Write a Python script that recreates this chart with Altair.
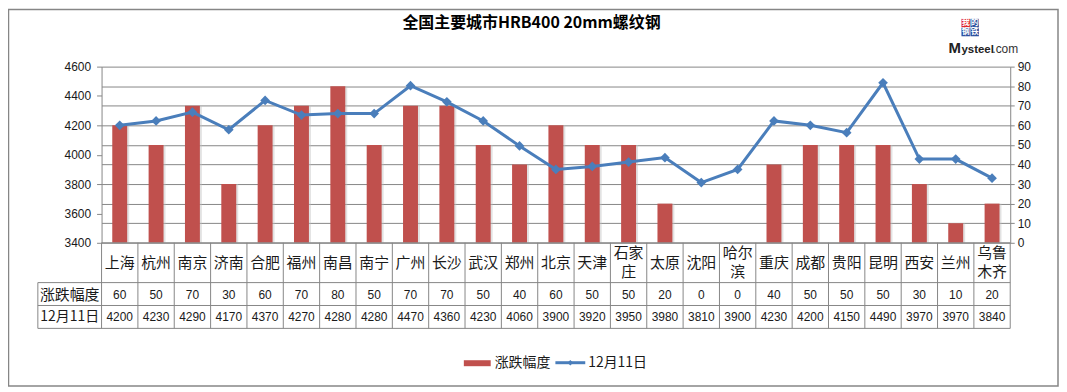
import altair as alt
import pandas as pd

# ---------------- data ----------------
cities = ["上海", "杭州", "南京", "济南", "合肥", "福州", "南昌", "南宁", "广州", "长沙",
          "武汉", "郑州", "北京", "天津", "石家庄", "太原", "沈阳", "哈尔滨", "重庆", "成都",
          "贵阳", "昆明", "西安", "兰州", "乌鲁木齐"]
city_labels = ["上海", "杭州", "南京", "济南", "合肥", "福州", "南昌", "南宁", "广州", "长沙",
               "武汉", "郑州", "北京", "天津", "石家\n庄", "太原", "沈阳", "哈尔\n滨", "重庆", "成都",
               "贵阳", "昆明", "西安", "兰州", "乌鲁\n木齐"]
change = [60, 50, 70, 30, 60, 70, 80, 50, 70, 70, 50, 40, 60, 50, 50, 20, 0, 0, 40, 50,
          50, 50, 30, 10, 20]
price = [4200, 4230, 4290, 4170, 4370, 4270, 4280, 4280, 4470, 4360, 4230, 4060, 3900, 3920,
         3950, 3980, 3810, 3900, 4230, 4200, 4150, 4490, 3970, 3970, 3840]
series_names = ["涨跌幅度", "12月11日"]
left_ticks = [3400, 3600, 3800, 4000, 4200, 4400, 4600]
right_ticks = [0, 10, 20, 30, 40, 50, 60, 70, 80, 90]
title_text = "全国主要城市HRB400 20mm螺纹钢"
logo_chars = ["我", "的", "钢", "铁"]

df = pd.DataFrame({"city": cities, "label": city_labels, "change": change, "price": price})

# ---------------- style ----------------
W, H = 913, 177
RED = "#C0504D"
BLUE = "#4A7EBB"
GRID = "#868686"
TXT = "#1a1a1a"
CJK = "Noto Sans CJK SC"
NUM = "Liberation Sans"

xenc = alt.X("city:N", sort=cities, scale=alt.Scale(paddingInner=0, paddingOuter=0), axis=None)

yright = alt.Y("change:Q",
               scale=alt.Scale(domain=[0, 90], nice=False, zero=True),
               axis=alt.Axis(orient="right", values=right_ticks, grid=True, gridColor=GRID,
                             gridWidth=1, domainColor=GRID, tickColor=GRID, tickSize=4,
                             labelPadding=3, labelFont=NUM, labelFontSize=12, labelColor=TXT,
                             format="d", title=None))

bar_base = alt.Chart(df).encode(x=xenc, y=yright)
shadow = bar_base.mark_bar(size=15, color="#bfbfbf", opacity=0.45, xOffset=2)
bars = bar_base.mark_bar(size=15, color=RED)
right_layer = alt.layer(shadow, bars)

line = alt.Chart(df).mark_line(
    color=BLUE, strokeWidth=3,
    point=alt.OverlayMarkDef(shape="diamond", size=95, filled=True, color=BLUE)
).encode(
    x=xenc,
    y=alt.Y("price:Q", scale=alt.Scale(domain=[3400, 4600], nice=False, zero=False),
            axis=alt.Axis(orient="left", values=left_ticks, grid=False, domainColor=GRID,
                          tickColor=GRID, tickSize=5, labelPadding=6, labelFont=NUM,
                          labelFontSize=12, labelColor=TXT, format="d", title=None))
)

# ---------------- data table below the plot ----------------
line_col = GRID
tbl = alt.Chart(df)
city_text = tbl.transform_calculate(
    ly="indexof(datum.label, '\\n') >= 0 ? 187.5 : 197"
).mark_text(font=CJK, fontSize=15, lineBreak="\n", lineHeight=19,
            baseline="middle", color=TXT).encode(
    x=xenc, y=alt.Y("ly:Q", scale=None, axis=None), text="label:N")
change_text = tbl.mark_text(font=NUM, fontSize=12, baseline="middle", color=TXT).encode(
    x=xenc, y=alt.value(229), text="change:Q")
price_text = tbl.mark_text(font=NUM, fontSize=12, baseline="middle", color=TXT).encode(
    x=xenc, y=alt.value(252), text="price:Q")

vlines = tbl.mark_rule(color=line_col, strokeWidth=1).encode(
    x=alt.X("city:N", sort=cities, scale=alt.Scale(paddingInner=0, paddingOuter=0),
            axis=None, bandPosition=1),
    y=alt.value(177), y2=alt.value(263))
vline0 = alt.Chart().mark_rule(color=line_col).encode(
    x=alt.value(0), y=alt.value(177), y2=alt.value(263))
vline_head = alt.Chart().mark_rule(color=line_col).encode(
    x=alt.value(-64), y=alt.value(217), y2=alt.value(263))
xaxis_line = alt.Chart().mark_rule(color=line_col).encode(
    x=alt.value(0), x2=alt.value(W), y=alt.value(177))
hlines = [alt.Chart().mark_rule(color=line_col).encode(
    x=alt.value(-64), x2=alt.value(W), y=alt.value(yy)) for yy in (217, 240, 263)]
head1 = alt.Chart().mark_text(font=CJK, fontSize=15, baseline="middle", color=TXT).encode(
    x=alt.value(-32), y=alt.value(229), text=alt.value(series_names[0]))
head2 = alt.Chart().mark_text(font=CJK, fontSize=14, baseline="middle", color=TXT).encode(
    x=alt.value(-32), y=alt.value(252), text=alt.value(series_names[1]))

# ---------------- title ----------------
title = alt.Chart().mark_text(font=CJK, fontSize=16, fontWeight="bold", baseline="middle",
                              color="#000000").encode(
    x=alt.value(432), y=alt.value(-44), text=alt.value(title_text))

# ---------------- legend ----------------
leg_rect = alt.Chart().mark_rect(color=RED).encode(
    x=alt.value(364), x2=alt.value(391), y=alt.value(295), y2=alt.value(301))
leg_t1 = alt.Chart().mark_text(font=CJK, fontSize=14, baseline="middle", align="left",
                               color=TXT).encode(
    x=alt.value(395), y=alt.value(298), text=alt.value(series_names[0]))
leg_line = alt.Chart().mark_rule(color=BLUE, strokeWidth=3).encode(
    x=alt.value(456), x2=alt.value(486), y=alt.value(297.5))
leg_pt = alt.Chart().mark_point(shape="diamond", size=30, filled=True, color=BLUE,
                                opacity=1).encode(
    x=alt.value(471), y=alt.value(297.5))
leg_t2 = alt.Chart().mark_text(font=CJK, fontSize=14, baseline="middle", align="left",
                               color=TXT).encode(
    x=alt.value(489), y=alt.value(298), text=alt.value(series_names[1]))

# ---------------- logo ----------------
logo_layers = []
boxes = [(864, -48, "#E0262E"), (873, -48, "#2C4F9E"),
         (864, -39, "#2C4F9E"), (873, -39, "#2C4F9E")]
for ch, (bx, by, col) in zip(logo_chars, boxes):
    logo_layers.append(alt.Chart().mark_rect(color=col).encode(
        x=alt.value(bx), x2=alt.value(bx + 8.5), y=alt.value(by), y2=alt.value(by + 8.5)))
    logo_layers.append(alt.Chart().mark_text(font=CJK, fontSize=8, fontWeight="bold",
                                             color="white", baseline="middle").encode(
        x=alt.value(bx + 4.25), y=alt.value(by + 4.5), text=alt.value(ch)))
logo_layers.append(alt.Chart().mark_text(font=NUM, fontSize=15, fontWeight="bold",
                                         align="left", baseline="alphabetic",
                                         color="#222222").encode(
    x=alt.value(851), y=alt.value(-14), text=alt.value("M")))
logo_layers.append(alt.Chart().mark_text(font=NUM, fontSize=11.5, fontWeight="bold",
                                         align="left", baseline="alphabetic",
                                         color="#222222").encode(
    x=alt.value(864), y=alt.value(-14), text=alt.value("ysteel")))
logo_layers.append(alt.Chart().mark_text(font=NUM, fontSize=12, align="left",
                                         baseline="alphabetic", color="#333333").encode(
    x=alt.value(895), y=alt.value(-14), text=alt.value(".com")))

# ---------------- frame ----------------
frame = alt.Chart().mark_rect(fillOpacity=0, stroke=GRID, strokeWidth=1.5).encode(
    x=alt.value(-93.5), x2=alt.value(961), y=alt.value(-57.5), y2=alt.value(321))

chart = alt.layer(
    frame, right_layer, line,
    vlines, vline0, vline_head, xaxis_line, *hlines,
    city_text, change_text, price_text, head1, head2,
    title, leg_rect, leg_t1, leg_line, leg_pt, leg_t2, *logo_layers
).resolve_scale(y="independent").properties(
    width=W, height=H,
    autosize=alt.AutoSizeParams(type="none"),
    padding={"left": 94, "top": 58, "right": 49, "bottom": 144},
    background="white"
).configure_view(strokeOpacity=0)

chart.save("out.html", embed_options={"renderer": "svg", "actions": False})
